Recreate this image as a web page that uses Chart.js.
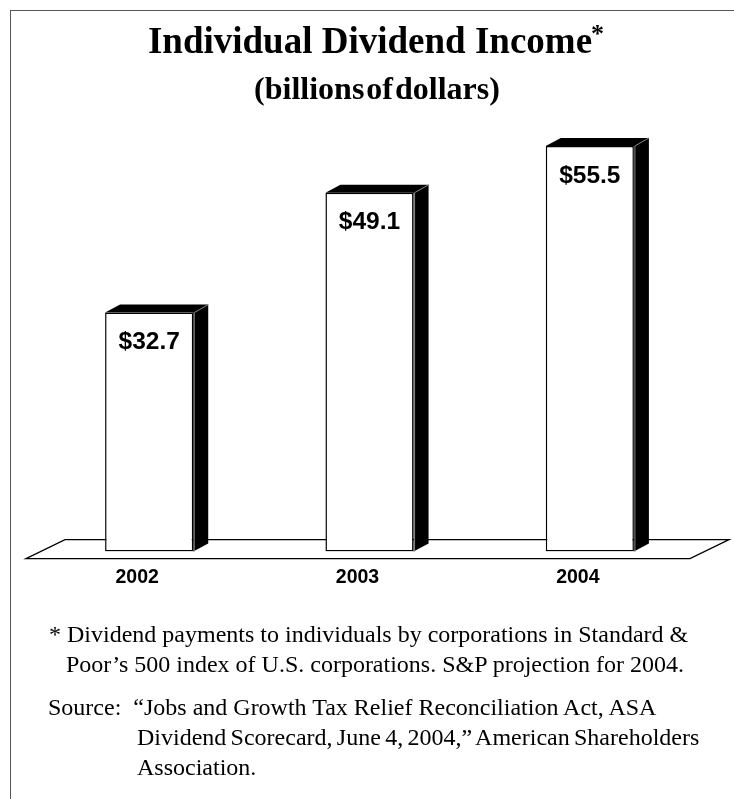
<!DOCTYPE html>
<html>
<head>
<meta charset="utf-8">
<title>Individual Dividend Income</title>
<script src="https://cdn.jsdelivr.net/npm/chart.js@4/dist/chart.umd.min.js"></script>
<style>
  html, body { margin: 0; padding: 0; background: #fff; }
  #page { position: relative; width: 734px; height: 799px; overflow: hidden; font-family: "Liberation Serif", serif; color: #000; }
  #frame { position: absolute; left: 10px; top: 10px; width: 740px; height: 800px; border: 1.5px solid #555; box-sizing: border-box; }
  canvas { position: absolute; left: 0; top: 0; }
  .t { position: absolute; white-space: nowrap; }
  #head { left: 9px; width: 734px; top: 18px; text-align: center; font-weight: bold; font-size: 37px; line-height: 46px; }
  #head sup { font-size: 26px; line-height: 0; vertical-align: 11px; margin-left: -1px; }
  #sub { left: 10px; width: 734px; top: 71px; text-align: center; font-weight: bold; font-size: 32px; line-height: 34px; word-spacing: -6px; }
  .n { font-size: 24px; line-height: 30px; }
</style>
</head>
<body>
<div id="page">
  <div id="frame"></div>
  <canvas id="chart" width="734" height="799"></canvas>
  <div class="t" id="head">Individual Dividend Income<sup>*</sup></div>
  <div class="t" id="sub">(billions of dollars)</div>
  <div class="t n" style="left:49px;top:619px">* Dividend payments to individuals by corporations in Standard &amp;</div>
  <div class="t n" style="left:66px;top:649px">Poor’s 500 index of U.S. corporations. S&amp;P projection for 2004.</div>
  <div class="t n" style="left:48px;top:692px">Source:&nbsp; “Jobs and Growth Tax Relief Reconciliation Act, ASA</div>
  <div class="t n" style="left:137px;top:722px;word-spacing:-1.7px">Dividend Scorecard, June 4, 2004,” American Shareholders</div>
  <div class="t n" style="left:137px;top:752px">Association.</div>
</div>
<script>
const years = ['2002', '2003', '2004'];
const dividendIncome = [32.7, 49.1, 55.5];
const valueLabels = ['$32.7', '$49.1', '$55.5'];

const DEPTH_X = 15, DEPTH_Y = 8;

// Floor slab under the bars, drawn behind everything else.
const floorPlane = {
  id: 'floorPlane',
  beforeDatasetsDraw(chart) {
    const { ctx, chartArea: a } = chart;
    const base = chart.scales.y.getPixelForValue(0);
    ctx.save();
    ctx.strokeStyle = '#000';
    ctx.lineWidth = 1.3;
    ctx.beginPath();
    ctx.moveTo(a.left + 26, base - 12);
    ctx.lineTo(a.right + 29, base - 12);
    ctx.lineTo(a.right - 10, base + 7);
    ctx.lineTo(a.left - 13, base + 7);
    ctx.closePath();
    ctx.stroke();
    // Black top and side faces give each bar its extruded look.
    chart.getDatasetMeta(0).data.forEach((bar) => {
      const l = bar.x - bar.width / 2, r = bar.x + bar.width / 2;
      ctx.fillStyle = '#000';
      ctx.beginPath();
      ctx.moveTo(l, bar.y);
      ctx.lineTo(l + DEPTH_X, bar.y - DEPTH_Y);
      ctx.lineTo(r + DEPTH_X, bar.y - DEPTH_Y);
      ctx.lineTo(r + DEPTH_X, bar.base - DEPTH_Y);
      ctx.lineTo(r, bar.base);
      ctx.lineTo(r, bar.y);
      ctx.closePath();
      ctx.fill();
      ctx.strokeStyle = '#888';
      ctx.lineWidth = 1;
      ctx.beginPath();
      ctx.moveTo(r + 1, bar.base);
      ctx.lineTo(r + 1, bar.y);
      ctx.lineTo(r + DEPTH_X, bar.y - DEPTH_Y);
      ctx.stroke();
    });
    ctx.restore();
  }
};

// Value printed inside the upper part of each bar.
const barValues = {
  id: 'barValues',
  afterDatasetsDraw(chart) {
    const { ctx } = chart;
    ctx.save();
    ctx.fillStyle = '#000';
    ctx.font = 'bold 24.5px "Liberation Sans", sans-serif';
    ctx.textAlign = 'center';
    ctx.textBaseline = 'middle';
    chart.getDatasetMeta(0).data.forEach((bar, i) => {
      ctx.fillText(valueLabels[i], bar.x, bar.y + 30);
    });
    ctx.restore();
  }
};

new Chart(document.getElementById('chart'), {
  type: 'bar',
  data: {
    labels: years,
    datasets: [{
      data: dividendIncome,
      backgroundColor: '#fff',
      borderColor: '#000',
      borderWidth: 1.5,
      borderSkipped: false,
      barPercentage: 0.4,
      categoryPercentage: 1
    }]
  },
  options: {
    responsive: false,
    animation: false,
    layout: { padding: { left: 39, right: 34, top: 40, bottom: 196 } },
    plugins: { legend: { display: false }, tooltip: { enabled: false } },
    scales: {
      x: {
        grid: { display: false, drawTicks: false },
        border: { display: false },
        ticks: { color: '#000', padding: 14, labelOffset: -12, font: { family: '"Liberation Sans", sans-serif', weight: 'bold', size: 19.5 } }
      },
      y: { display: false, min: 0, max: 70 }
    }
  },
  plugins: [floorPlane, barValues]
});
</script>
</body>
</html>
